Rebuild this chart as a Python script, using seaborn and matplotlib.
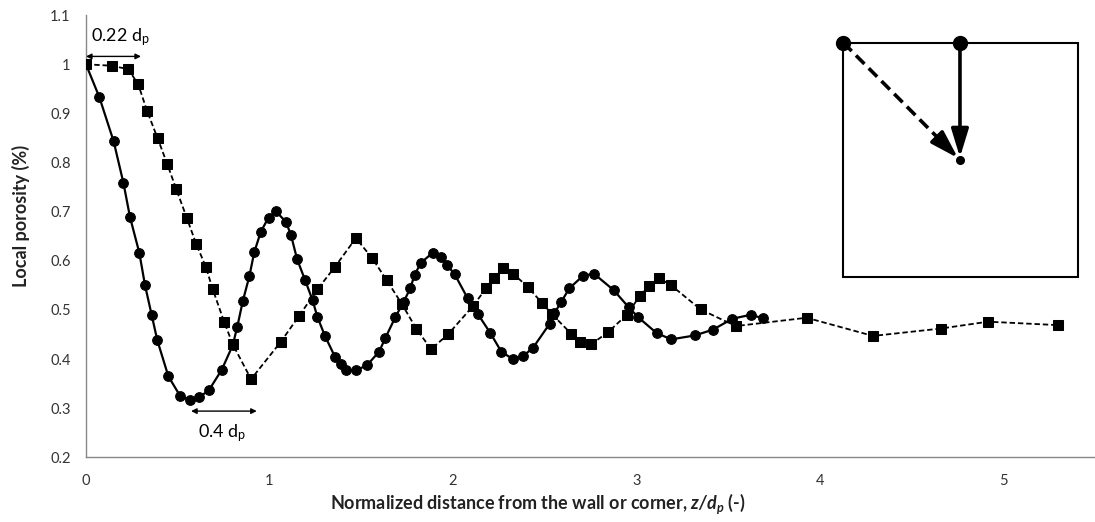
import numpy as np
import pandas as pd
import matplotlib
matplotlib.use("Agg")
import matplotlib.pyplot as plt
import seaborn as sns
from matplotlib.patches import Rectangle

# ---- data ----
wall_x = [0.000, 0.073, 0.151, 0.204, 0.240, 0.291, 0.322, 0.358, 0.389, 0.449,
          0.513, 0.567, 0.618, 0.671, 0.740, 0.800, 0.825, 0.855, 0.891, 0.917,
          0.953, 0.995, 1.035, 1.090, 1.117, 1.151, 1.195, 1.235, 1.262, 1.304,
          1.358, 1.390, 1.418, 1.471, 1.531, 1.598, 1.631, 1.686, 1.731, 1.768,
          1.791, 1.826, 1.889, 1.935, 1.968, 2.009, 2.080, 2.137, 2.204, 2.264,
          2.326, 2.383, 2.437, 2.528, 2.553, 2.590, 2.635, 2.708, 2.768, 2.877,
          2.959, 3.010, 3.110, 3.190, 3.319, 3.419, 3.523, 3.623, 3.690]
wall_y = [1.000, 0.933, 0.843, 0.759, 0.689, 0.616, 0.550, 0.490, 0.438, 0.365,
          0.325, 0.316, 0.322, 0.337, 0.378, 0.428, 0.466, 0.518, 0.569, 0.617,
          0.659, 0.688, 0.701, 0.679, 0.653, 0.603, 0.560, 0.520, 0.485, 0.446,
          0.404, 0.389, 0.377, 0.377, 0.387, 0.415, 0.442, 0.485, 0.516, 0.544,
          0.571, 0.596, 0.616, 0.608, 0.591, 0.573, 0.524, 0.491, 0.453, 0.415,
          0.400, 0.406, 0.423, 0.472, 0.493, 0.516, 0.544, 0.569, 0.574, 0.540,
          0.505, 0.485, 0.453, 0.440, 0.448, 0.460, 0.482, 0.490, 0.483]

corner_x = [0.000, 0.140, 0.231, 0.285, 0.334, 0.391, 0.444, 0.491, 0.549, 0.600,
            0.653, 0.691, 0.753, 0.800, 0.900, 1.062, 1.162, 1.262, 1.358, 1.471,
            1.559, 1.640, 1.722, 1.800, 1.881, 1.973, 2.110, 2.181, 2.226, 2.271,
            2.328, 2.410, 2.486, 2.541, 2.646, 2.695, 2.753, 2.844, 2.948, 3.020,
            3.069, 3.122, 3.190, 3.350, 3.541, 3.928, 4.290, 4.659, 4.917, 5.299]
corner_y = [1.000, 0.997, 0.990, 0.959, 0.904, 0.849, 0.796, 0.747, 0.688, 0.635,
            0.588, 0.542, 0.476, 0.430, 0.359, 0.435, 0.488, 0.542, 0.588, 0.646,
            0.606, 0.560, 0.512, 0.462, 0.420, 0.450, 0.508, 0.544, 0.565, 0.585,
            0.574, 0.546, 0.514, 0.491, 0.451, 0.435, 0.430, 0.454, 0.490, 0.529,
            0.548, 0.565, 0.550, 0.501, 0.467, 0.484, 0.447, 0.462, 0.476, 0.469]

x_ticks = [0, 1, 2, 3, 4, 5]
y_ticks = [0.2, 0.3, 0.4, 0.5, 0.6, 0.7, 0.8, 0.9, 1.0, 1.1]
y_tick_labels = ["0.2", "0.3", "0.4", "0.5", "0.6", "0.7", "0.8", "0.9", "1", "1.1"]

# ---- style ----
sns.set_theme(style="white")
plt.rcParams['font.family'] = ['Lato', 'DejaVu Sans']
plt.rcParams['mathtext.fontset'] = 'custom'
plt.rcParams['mathtext.rm'] = 'Lato'
plt.rcParams['mathtext.it'] = 'Lato:italic'
plt.rcParams['mathtext.bf'] = 'Lato:bold'
plt.rcParams['mathtext.bfit'] = 'Lato:bold:italic'

fig = plt.figure(figsize=(10.95, 5.22), dpi=100)
ax = fig.add_axes([0.0785, 0.124, 0.9215, 0.847])

wall_df = pd.DataFrame({"x": wall_x, "y": wall_y})
corner_df = pd.DataFrame({"x": corner_x, "y": corner_y})

sns.lineplot(data=corner_df, x="x", y="y", sort=False, ax=ax, color="black",
             linestyle=(0, (3, 1.6)), lw=1.3, marker="s", markersize=6.8,
             markeredgecolor="black", markerfacecolor="black", zorder=3)
sns.lineplot(data=wall_df, x="x", y="y", sort=False, ax=ax, color="black",
             lw=1.6, marker="o", markersize=7.0,
             markeredgecolor="black", markerfacecolor="black", zorder=4)

ax.set_xlim(0, 5.5)
ax.set_ylim(0.2, 1.1)
ax.set_xticks(x_ticks)
ax.set_xticklabels([str(t) for t in x_ticks])
ax.set_yticks(y_ticks)
ax.set_yticklabels(y_tick_labels)

for s in ["top", "right"]:
    ax.spines[s].set_visible(False)
for s in ["left", "bottom"]:
    ax.spines[s].set_color("#888888")
    ax.spines[s].set_linewidth(1.0)
ax.tick_params(axis="both", which="major", direction="out", length=5, width=1,
               color="#888888", labelsize=10.5, labelcolor="#333333", pad=6)
ax.tick_params(axis="x", pad=7)

ax.set_xlabel(r"Normalized distance from the wall or corner, $\mathbfit{z/d_p}$ (-)",
              fontsize=13, fontweight="bold", color="#222222")
ax.set_ylabel("Local porosity (%)", fontsize=13, fontweight="bold", color="#222222")
ax.xaxis.label.set_va("center")
ax.yaxis.label.set_va("center")
ax.xaxis.set_label_coords(0.448, -0.104)
ax.yaxis.set_label_coords(-0.064, 0.545)

# dimension annotations
ax.annotate("", xy=(0.0, 1.016), xytext=(0.30, 1.016),
            arrowprops=dict(arrowstyle="<|-|>", lw=1.0, color="black", mutation_scale=8,
                            shrinkA=0, shrinkB=0))
ax.text(0.03, 1.055, r"0.22 d$_\mathregular{p}$", fontsize=13, ha="left", va="center",
        color="black")
ax.annotate("", xy=(0.573, 0.294), xytext=(0.931, 0.294),
            arrowprops=dict(arrowstyle="<|-|>", lw=1.0, color="black", mutation_scale=8,
                            shrinkA=0, shrinkB=0))
ax.text(0.745, 0.249, r"0.4 d$_\mathregular{p}$", fontsize=13, ha="center", va="center",
        color="black")

# inset schematic
bx0, bx1, by0, by1 = 4.128, 5.408, 0.567, 1.044
ax.add_patch(Rectangle((bx0, by0), bx1 - bx0, by1 - by0, fill=False,
                       edgecolor="black", lw=1.5, zorder=2))
dot_x, dot_y = 4.764, 0.805
frac = 0.84
mid_x = bx0 + frac * (dot_x - bx0)
mid_y = by1 + frac * (dot_y - by1)
ax.plot([bx0, mid_x], [by1, mid_y], color="black", lw=2.6,
        linestyle=(0, (3.3, 1.7)), solid_capstyle="butt", zorder=5)
head_style = "-|>,head_length=0.85,head_width=0.26"
ax.annotate("", xy=(dot_x, dot_y), xytext=(mid_x, mid_y),
            arrowprops=dict(arrowstyle=head_style, lw=2.6, color="black",
                            mutation_scale=20, shrinkA=0, shrinkB=2), zorder=5)
ax.annotate("", xy=(dot_x, dot_y), xytext=(dot_x, by1),
            arrowprops=dict(arrowstyle=head_style, lw=2.6, color="black",
                            mutation_scale=20, shrinkA=0, shrinkB=2), zorder=5)
ax.plot([bx0, dot_x], [by1, by1], "o", color="black", markersize=10, zorder=6)
ax.plot([dot_x], [dot_y], "o", color="black", markersize=5.5, zorder=6)

fig.savefig("out.png", dpi=100)
